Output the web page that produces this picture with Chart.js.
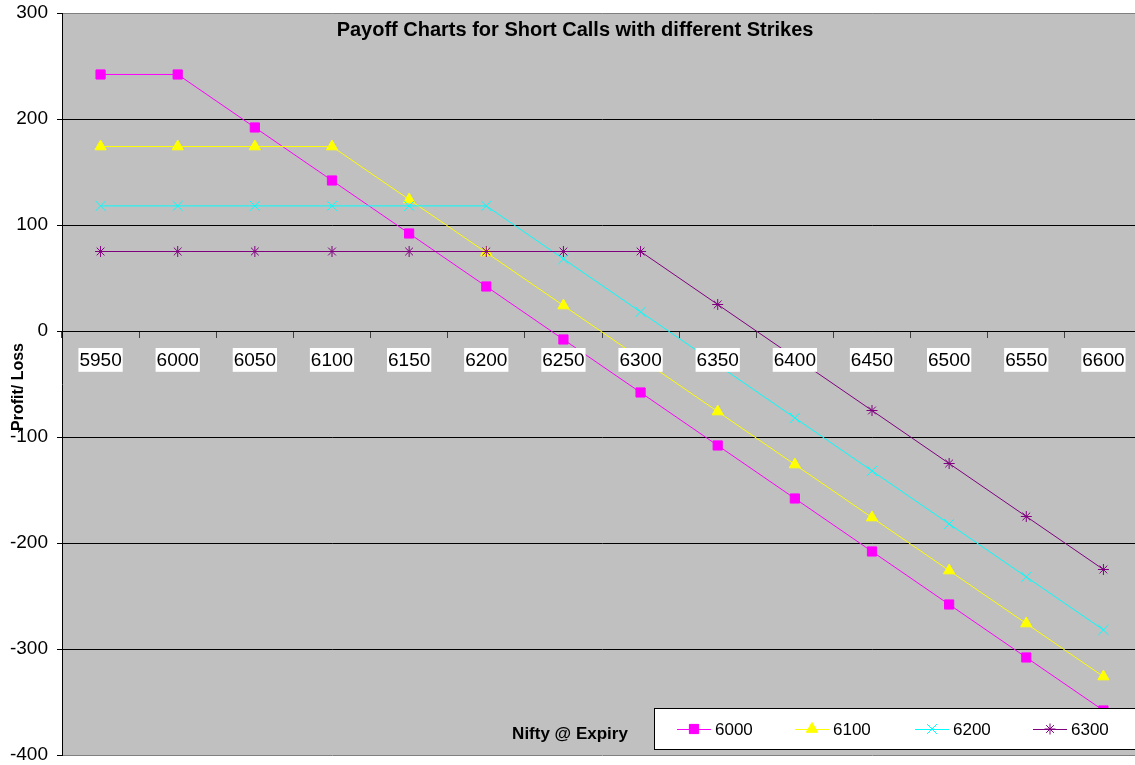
<!DOCTYPE html>
<html>
<head>
<meta charset="utf-8">
<script src="https://cdn.jsdelivr.net/npm/chart.js@4/dist/chart.umd.min.js"></script>
<style>
  html, body { margin: 0; padding: 0; background: #fff; }
  /* the plot runs a few pixels past the right edge of the picture */
  #wrap { width: 1135px; height: 765px; overflow: hidden; }
</style>
</head>
<body>
<div id="wrap"><canvas id="chart" width="1142" height="765"></canvas></div>
<script>
// --- Data ---
const expiryLevels = ["5950", "6000", "6050", "6100", "6150", "6200", "6250", "6300", "6350", "6400", "6450", "6500", "6550", "6600"];
const strikes = ["6000", "6100", "6200", "6300"];
const short6000 = [242, 242, 192, 142, 92, 42, -8, -58, -108, -158, -208, -258, -308, -358];
const short6100 = [174, 174, 174, 174, 124, 74, 24, -26, -76, -126, -176, -226, -276, -326];
const short6200 = [118, 118, 118, 118, 118, 118, 68, 18, -32, -82, -132, -182, -232, -282];
const short6300 = [75, 75, 75, 75, 75, 75, 75, 75, 25, -25, -75, -125, -175, -225];
const yTicks = [300, 200, 100, 0, -100, -200, -300, -400];

const FONT = "'Liberation Sans', Arial, sans-serif";

// --- Styles per series ---
const seriesStyle = [
	{ color: "#FF00FF", point: "rect", radius: 6.5 },
	{ color: "#FFFF00", point: "triangle", radius: 6.5 },
	{ color: "#00FFFF", point: "crossRot", radius: 7 },
	{ color: "#800080", point: "star", radius: 5.5 },
];
const seriesData = [short6000, short6100, short6200, short6300];

// --- Plugins: plot background, titles, legend ---
const plotBg = {
	id: "plotBg",
	beforeDraw(chart) {
		const { ctx, chartArea: a } = chart;
		ctx.save();
		ctx.fillStyle = "#C0C0C0";
		ctx.fillRect(a.left, a.top, a.right - a.left, a.bottom - a.top);
		ctx.restore();
	},
};

const overlay = {
	id: "overlay",
	afterDraw(chart) {
		const { ctx } = chart;
		ctx.save();
		ctx.fillStyle = "#000";
		ctx.textAlign = "center";
		ctx.textBaseline = "middle";
		ctx.font = "bold 20px " + FONT;
		ctx.fillText("Payoff Charts for Short Calls with different Strikes", 575, 30);
		ctx.font = "bold 17px " + FONT;
		ctx.fillText("Nifty @ Expiry", 570, 734);

		// y title
		ctx.save();
		ctx.font = "bold 16px " + FONT;
		ctx.translate(19, 387);
		ctx.rotate(-Math.PI / 2);
		ctx.fillText("Profit/ Loss", 0, 0);
		ctx.restore();

		// legend
		ctx.fillStyle = "#fff";
		ctx.fillRect(654.5, 708.5, 490, 41);
		ctx.strokeStyle = "#000";
		ctx.lineWidth = 1;
		ctx.strokeRect(654.5, 708.5, 490, 41);
		const starts = [677, 795, 915, 1033];
		const ly = 729;
		ctx.font = "17px " + FONT;
		ctx.textAlign = "left";
		strikes.forEach((s, i) => {
			const st = seriesStyle[i];
			const x0 = starts[i];
			ctx.strokeStyle = st.color;
			ctx.fillStyle = st.color;
			ctx.beginPath();
			ctx.moveTo(x0, ly + 0.5);
			ctx.lineTo(x0 + 34, ly + 0.5);
			ctx.stroke();
			Chart.helpers.drawPoint(ctx, {
				pointStyle: st.point,
				radius: st.radius,
				borderWidth: 1,
				rotation: 0,
			}, x0 + 17, ly);
			ctx.fill();
			ctx.fillStyle = "#000";
			ctx.fillText(s, x0 + 38, ly + 1);
		});
		ctx.restore();
	},
};

// --- Chart ---
const datasets = strikes.map((s, i) => {
	const st = seriesStyle[i];
	return {
		label: s,
		data: seriesData[i],
		borderColor: st.color,
		backgroundColor: st.color,
		borderWidth: 1,
		pointStyle: st.point,
		pointRadius: st.radius,
		pointBorderWidth: 1,
		pointBackgroundColor: st.color,
		pointBorderColor: st.color,
		tension: 0,
		order: strikes.length - i,
	};
});

new Chart(document.getElementById("chart"), {
	type: "line",
	data: { labels: expiryLevels, datasets },
	options: {
		responsive: false,
		animation: false,
		events: [],
		layout: { autoPadding: false, padding: { top: 13, bottom: 10, left: 0, right: 0 } },
		plugins: {
			legend: { display: false },
			tooltip: { enabled: false },
			title: { display: false },
		},
		scales: {
			x: {
				type: "category",
				position: { y: 0 },
				offset: true,
				afterFit: (scale) => {
					scale.paddingLeft = 0;
					scale.paddingRight = 0;
				},
				grid: {
					display: true,
					drawOnChartArea: false,
					drawTicks: true,
					tickLength: 6,
					color: "#404040",
					offset: true,
				},
				border: { display: true, color: "#000", width: 1 },
				ticks: {
					z: 1,
					color: "#000",
					font: { family: FONT, size: 19 },
					padding: 12,
					maxRotation: 0,
					autoSkip: false,
					showLabelBackdrop: true,
					backdropColor: "#fff",
					backdropPadding: { top: 1, bottom: 0, left: 1, right: 1 },
				},
			},
			y: {
				min: -400,
				max: 300,
				afterFit: (scale) => {
					scale.width = 62;
					scale.paddingTop = 0;
					scale.paddingBottom = 0;
				},
				afterBuildTicks: (scale) => {
					scale.ticks = yTicks.map((v) => ({ value: v }));
				},
				grid: {
					color: (c) => (c.tick && (c.tick.value === 300 || c.tick.value === -400) ? "#808080" : "#000"),
					tickColor: "#000",
					tickLength: 5,
					lineWidth: 1,
				},
				border: { display: true, color: "#000", width: 1 },
				ticks: {
					color: "#000",
					font: { family: FONT, size: 19, lineHeight: 1 },
					padding: 9,
					stepSize: 100,
				},
			},
		},
	},
	plugins: [plotBg, overlay],
});
</script>
</body>
</html>
